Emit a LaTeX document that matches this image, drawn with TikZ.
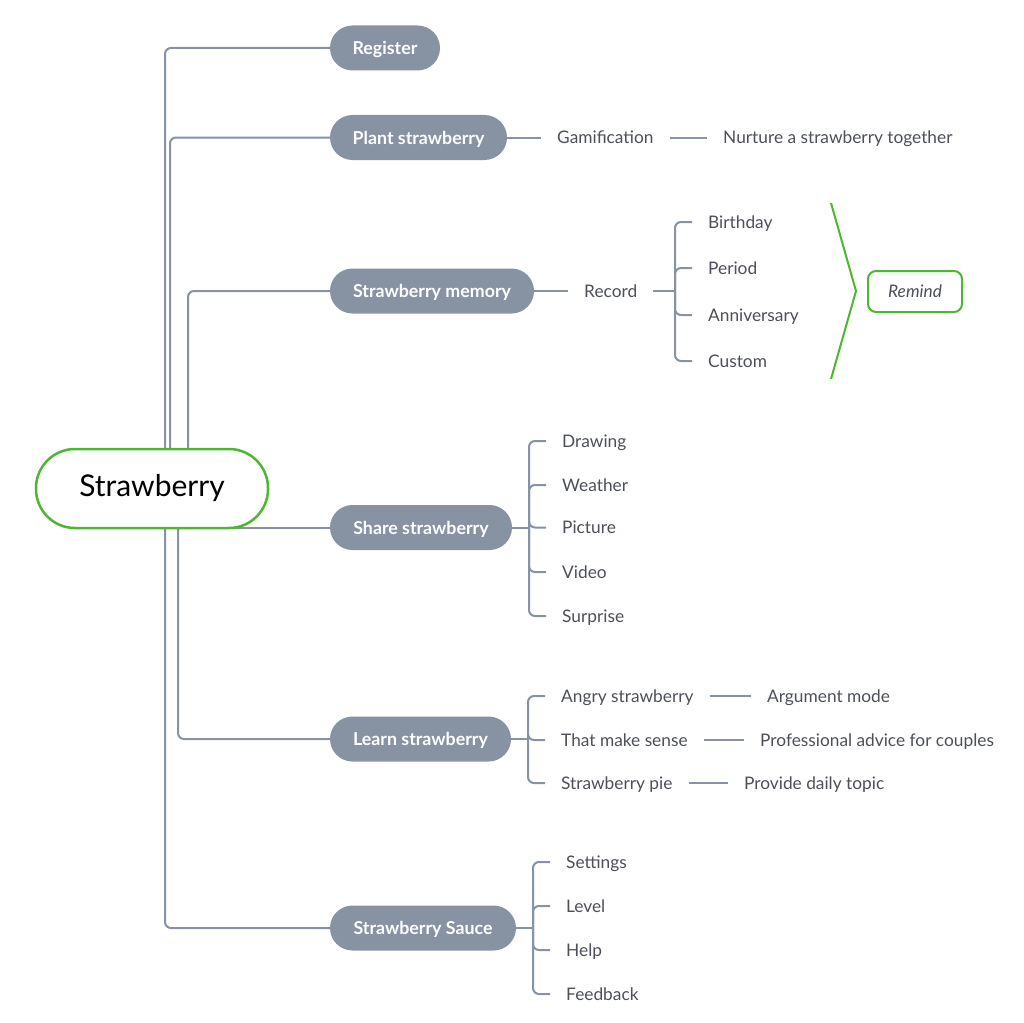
\documentclass[tikz,border=0pt]{standalone}
\usepackage{fontspec}
\setmainfont{Lato}
\usetikzlibrary{backgrounds}
\definecolor{branch}{HTML}{8792A3}
\definecolor{leaf}{HTML}{4D5058}
\definecolor{mark}{HTML}{4CB832}
\pgfdeclarelayer{backdrop}
\pgfsetlayers{backdrop,background,main}
\begin{document}
\begin{tikzpicture}[x=1pt,y=-1pt,
  link/.style={draw=branch,line width=2pt,rounded corners=6pt},
  topic/.style={fill=branch,text=white,font=\fontsize{17.8}{20}\selectfont\bfseries,
    rounded corners=22.5pt,minimum height=45pt,inner sep=0pt,text height=13pt,text depth=0pt},
  leafnode/.style={text=leaf,font=\fontsize{17.3}{20}\selectfont,inner xsep=16pt,
    inner ysep=2pt,text height=13pt,text depth=1pt,anchor=west},
  summary/.style={draw=mark,line width=2pt},
]
\begin{pgfonlayer}{backdrop}
  \fill[white] (0,0) rectangle (1024,1022);
\end{pgfonlayer}
\useasboundingbox (0,0) rectangle (1024,1022);

% central topic
\node[draw=mark,line width=2.5pt,fill=white,rounded corners=39pt,minimum width=232pt,
  minimum height=79pt,inner sep=0pt,font=\fontsize{30}{34}\selectfont] (root) at (152,488.5) {Strawberry};

% main branches
\node[topic,minimum width=110pt] (reg)   at (385,48)    {Register};
\node[topic,minimum width=177pt] (plant) at (418.5,137.5) {Plant strawberry};
\node[topic,minimum width=204pt] (mem)   at (432,291)   {Strawberry memory};
\node[topic,minimum width=182pt] (share) at (421,527.5) {Share strawberry};
\node[topic,minimum width=181pt] (learn) at (420.5,739) {Learn strawberry};
\node[topic,minimum width=186pt] (sauce) at (423,928)   {Strawberry Sauce};

% plant strawberry
\node[leafnode] (gam) at (541,137.5) {Gamification};
\node[leafnode] (nur) at (707,137.5) {Nurture a strawberry together};

% strawberry memory
\node[leafnode] (rec) at (568,291) {Record};
\coordinate (recj) at (675,291);
\node[leafnode] (bday) at (692,222) {Birthday};
\node[leafnode] (per)  at (692,268) {Period};
\node[leafnode] (ann)  at (692,315) {Anniversary};
\node[leafnode] (cus)  at (692,361) {Custom};
\coordinate (sumtop) at (831,203);
\coordinate (sumtip) at (856,291);
\coordinate (sumbot) at (831,379);
\node[draw=mark,line width=2pt,rounded corners=8pt,minimum width=94pt,minimum height=41pt,
  inner sep=0pt,text=leaf,text height=13pt,text depth=1pt,
  font=\fontsize{17.3}{20}\selectfont\itshape] (rem) at (915,291.5) {Remind};
\draw[summary,line join=miter] (sumtop) -- (sumtip) -- (sumbot);

% share strawberry
\coordinate (shj) at (529,527.5);
\node[leafnode] (draw) at (546,441) {Drawing};
\node[leafnode] (wea)  at (546,485) {Weather};
\node[leafnode] (pic)  at (546,527.5) {Picture};
\node[leafnode] (vid)  at (546,572) {Video};
\node[leafnode] (sur)  at (546,616) {Surprise};

% learn strawberry
\coordinate (lej) at (528,739);
\node[leafnode] (ang) at (545,696) {Angry strawberry};
\node[leafnode] (tms) at (545,740) {That make sense};
\node[leafnode] (pie) at (545,783) {Strawberry pie};
\node[leafnode] (arg) at (751,696) {Argument mode};
\node[leafnode] (pro) at (744,740) {Professional advice for couples};
\node[leafnode] (top) at (728,783) {Provide daily topic};

% strawberry sauce
\coordinate (saj) at (533,928);
\node[leafnode] (set) at (550,862) {Settings};
\node[leafnode] (lev) at (550,906) {Level};
\node[leafnode] (hlp) at (550,950) {Help};
\node[leafnode] (fbk) at (550,994) {Feedback};

\begin{scope}[on background layer]
  \draw[link] (reg.west)   -| ([xshift=13pt]root.center);
  \draw[link] (plant.west) -| ([xshift=18pt]root.center);
  \draw[link] (mem.west)   -| ([xshift=36pt]root.center);
  \draw[link] (share.west) -- (share.west -| root.center);
  \draw[link] (learn.west) -| ([xshift=26pt]root.center);
  \draw[link] (sauce.west) -| ([xshift=13pt]root.center);

  \draw[link] (plant.east) -- (gam.west);
  \draw[link] (gam.east) -- (nur.west);

  \draw[link] (mem.east) -- (rec.west);
  \draw[link] (rec.east) -- (recj);
  \foreach \c in {bday,per,ann,cus} \draw[link] (recj) |- (\c.west);

  \draw[link] (share.east) -- (shj);
  \foreach \c in {draw,wea,pic,vid,sur} \draw[link] (shj) |- (\c.west);

  \draw[link] (learn.east) -- (lej);
  \foreach \c in {ang,tms,pie} \draw[link] (lej) |- (\c.west);
  \draw[link] (ang.east) -- (arg.west);
  \draw[link] (tms.east) -- (pro.west);
  \draw[link] (pie.east) -- (top.west);

  \draw[link] (sauce.east) -- (saj);
  \foreach \c in {set,lev,hlp,fbk} \draw[link] (saj) |- (\c.west);
\end{scope}
\end{tikzpicture}
\end{document}
